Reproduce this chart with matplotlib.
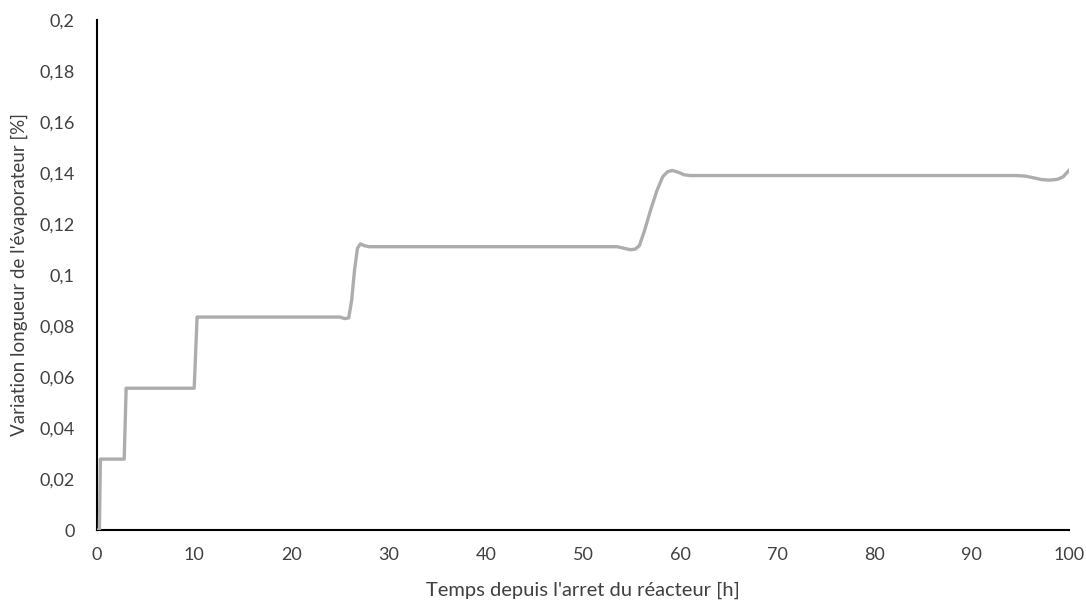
import matplotlib
matplotlib.use("Agg")
import matplotlib.pyplot as plt
from matplotlib.ticker import FuncFormatter

# values
temps_h = [0.0, 0.25, 0.35, 2.8, 3.0, 10.0, 10.3, 25.0, 25.5, 25.9, 26.2, 26.5,
           26.8, 27.1, 27.5, 28.0, 53.5, 54.3, 54.9, 55.4, 55.8, 56.3, 57.0,
           57.6, 58.2, 58.7, 59.2, 59.8, 60.4, 61.0, 94.5, 95.5, 96.5, 97.2,
           98.0, 98.8, 99.4, 100.0]
variation = [0.0, 0.0, 0.0278, 0.0278, 0.0556, 0.0556, 0.0835, 0.0835, 0.0829,
             0.0832, 0.090, 0.102, 0.1105, 0.1122, 0.1115, 0.1111, 0.1111,
             0.1104, 0.1099, 0.1102, 0.1115, 0.117, 0.126, 0.133, 0.1385,
             0.1405, 0.1410, 0.1403, 0.1393, 0.1390, 0.1390, 0.1388, 0.1380,
             0.1374, 0.1372, 0.1375, 0.1385, 0.1410]
x_ticks = list(range(0, 101, 10))
y_ticks = [i * 0.02 for i in range(11)]

plt.rcParams["font.family"] = ["Lato", "DejaVu Sans"]

fig = plt.figure(figsize=(10.86, 6.02), dpi=100)
ax = fig.add_axes([0.0893, 0.1196, 0.8950, 0.8472])

ax.plot(temps_h, variation, color="#ADADAD", linewidth=2.4,
        solid_joinstyle="round", zorder=3)

ax.set_xlim(0, 100)
ax.set_ylim(0, 0.2)
ax.set_xticks(x_ticks)
ax.set_yticks(y_ticks)


def comma(v, pos):
    s = f"{v:.2f}".rstrip("0").rstrip(".")
    return s.replace(".", ",")


ax.yaxis.set_major_formatter(FuncFormatter(comma))
ax.tick_params(length=0, labelsize=13, colors="#404040")
ax.tick_params(axis="y", pad=16)
ax.tick_params(axis="x", pad=12)
for side in ("top", "right"):
    ax.spines[side].set_visible(False)
for side in ("left", "bottom"):
    ax.spines[side].set_color("black")
    ax.spines[side].set_linewidth(1.5)

ax.set_xlabel("Temps depuis l'arret du réacteur [h]", fontsize=14.5, color="#404040",
              labelpad=14)
ax.set_ylabel("Variation longueur de l'évaporateur [%]", fontsize=13.5,
              color="#404040", labelpad=8)

fig.savefig("out.png", dpi=100)
